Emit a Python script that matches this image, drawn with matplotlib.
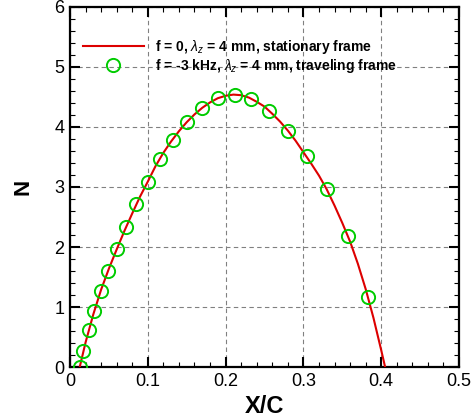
import matplotlib
matplotlib.use("Agg")
import matplotlib.pyplot as plt
from matplotlib.ticker import MultipleLocator

plt.rcParams["font.family"] = ["Liberation Sans", "DejaVu Sans"]
plt.rcParams["mathtext.fontset"] = "custom"
plt.rcParams["mathtext.rm"] = "Liberation Sans"
plt.rcParams["mathtext.it"] = "Liberation Sans:italic"
plt.rcParams["mathtext.bf"] = "Liberation Sans:bold"

# ── data ─────────────────────────────────────────────────────────────────────
# stationary frame curve
curve_x = [0.0125, 0.02, 0.03, 0.04, 0.05, 0.06, 0.07, 0.08, 0.09, 0.10,
           0.11, 0.12, 0.13, 0.14, 0.15, 0.16, 0.17, 0.18, 0.19, 0.20,
           0.21, 0.22, 0.23, 0.24, 0.25, 0.26, 0.27, 0.28, 0.29, 0.30,
           0.31, 0.32, 0.33, 0.34, 0.35, 0.36, 0.37, 0.38, 0.39, 0.40, 0.405]
curve_n = [0.00, 0.41, 0.88, 1.29, 1.64, 1.96, 2.27, 2.56, 2.84, 3.09,
           3.35, 3.57, 3.76, 3.93, 4.08, 4.21, 4.32, 4.41, 4.48, 4.52,
           4.54, 4.53, 4.49, 4.42, 4.34, 4.22, 4.09, 3.94, 3.77, 3.58,
           3.39, 3.19, 2.96, 2.69, 2.40, 2.09, 1.72, 1.30, 0.82, 0.28, 0.00]

# traveling frame samples
trav_x = [0.0129, 0.0171, 0.0244, 0.0313, 0.0394, 0.0488, 0.060, 0.0724,
          0.0853, 0.1003, 0.1153, 0.1328, 0.150, 0.170, 0.1906, 0.2117,
          0.2326, 0.2562, 0.280, 0.304, 0.330, 0.357, 0.383]
trav_n = [0.00, 0.27, 0.62, 0.94, 1.27, 1.60, 1.96, 2.34,
          2.71, 3.09, 3.47, 3.79, 4.08, 4.32, 4.49, 4.54,
          4.47, 4.27, 3.94, 3.51, 2.96, 2.19, 1.17]

LABEL_STAT = r"f = 0, $\lambda_z$ = 4 mm, stationary frame"
LABEL_TRAV = r"f = -3 kHz, $\lambda_z$ = 4 mm, traveling frame"

# ── figure ───────────────────────────────────────────────────────────────────
fig = plt.figure(figsize=(4.74, 4.19), dpi=100)
ax = fig.add_axes([0.1477, 0.1241, 0.8207, 0.8592])

ax.plot(curve_x, curve_n, color="#dd0000", linewidth=1.5, label=LABEL_STAT, zorder=3)
ax.plot(trav_x, trav_n, linestyle="none", marker="o", markersize=9.5,
        markerfacecolor="none", markeredgecolor="#00cc00", markeredgewidth=1.4,
        label=LABEL_TRAV, zorder=4)

ax.set_xlim(0, 0.5)
ax.set_ylim(0, 6)
ax.xaxis.set_major_locator(MultipleLocator(0.1))
ax.xaxis.set_minor_locator(MultipleLocator(0.02))
ax.yaxis.set_major_locator(MultipleLocator(1))
ax.yaxis.set_minor_locator(MultipleLocator(0.2))
ax.set_xticks([0, 0.1, 0.2, 0.3, 0.4, 0.5])
ax.set_xticklabels(["0", "0.1", "0.2", "0.3", "0.4", "0.5"])

ax.tick_params(which="both", direction="in", top=True, right=True,
               labelsize=13, color="black")
ax.tick_params(which="major", length=7, width=1.5, pad=4)
ax.tick_params(which="minor", length=3.5, width=0.8)
for sp in ax.spines.values():
    sp.set_linewidth(1.6)

ax.grid(which="major", linestyle=(0, (4, 3)), color="#808080", linewidth=0.8)
ax.set_axisbelow(True)

ax.set_xlabel("X/C", fontsize=17, fontweight="bold", labelpad=4)
ax.set_ylabel("N", fontsize=16, fontweight="bold", labelpad=15)

ax.legend(loc="upper left", bbox_to_anchor=(0.033, 0.915), frameon=False,
          prop={"size": 10, "weight": "bold"}, handlelength=4.4,
          handletextpad=0.8, labelspacing=0.12, borderaxespad=0,
          borderpad=0)

fig.savefig("out.png", dpi=100, facecolor="white")
